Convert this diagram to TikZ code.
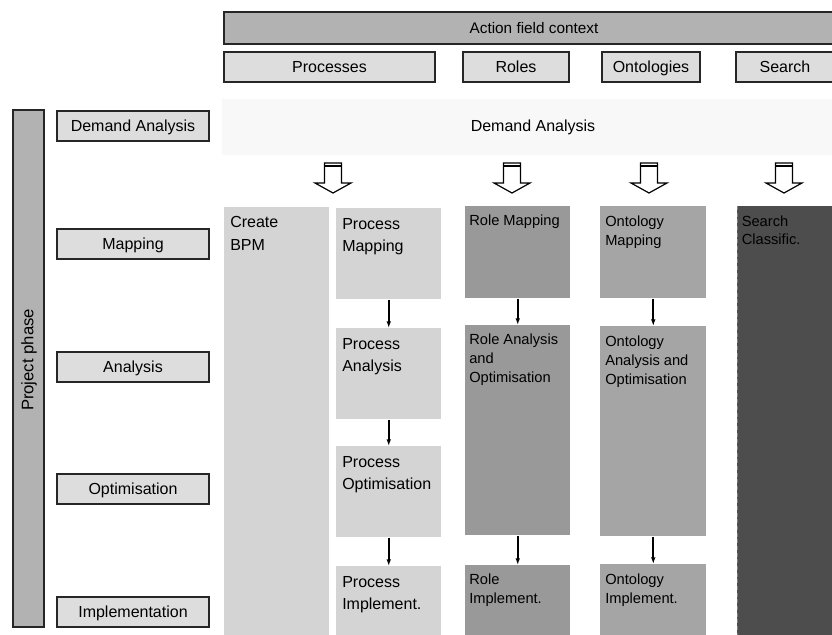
\documentclass[tikz,border=0pt]{standalone}
\usepackage{fontspec}
\setmainfont{Liberation Sans}
\usetikzlibrary{positioning,arrows.meta}

\definecolor{framegray}{HTML}{B2B2B2}
\definecolor{headgray}{HTML}{DDDDDD}
\definecolor{bandgray}{HTML}{F8F8F8}
\definecolor{procgray}{HTML}{D4D4D4}
\definecolor{rolegray}{HTML}{999999}
\definecolor{ontogray}{HTML}{A5A5A5}
\definecolor{searchgray}{HTML}{4D4D4D}

\begin{document}
\begin{tikzpicture}[x=0.75pt, y=-0.75pt,
    font=\fontsize{12}{14}\selectfont,
    headbox/.style={draw=black!85, line width=0.9pt, fill=headgray, inner sep=0pt,
        text height=8.6pt, text depth=0pt},
    framebox/.style={headbox, fill=framegray},
    colbox/.style={inner sep=0pt, anchor=north west, minimum width=105*0.75pt},
    biglabel/.style={inner sep=0pt, anchor=north west, align=left,
        font=\fontsize{12}{17}\selectfont},
    smalllabel/.style={inner sep=0pt, anchor=north west, align=left,
        font=\fontsize{11}{14}\selectfont},
    flow/.style={-{Latex[length=5pt,width=3.5pt]}, line width=1.4pt},
    hollow/.style={draw=black, line width=0.9pt, fill=white}]

    \useasboundingbox (0,0) rectangle (832,635);

    % context header
    \node[framebox, font=\fontsize{11.5}{13}\selectfont, minimum width=620*0.75pt, minimum height=32*0.75pt] (context) at (534,28) {Action field context};
    \node[headbox, minimum width=211*0.75pt, minimum height=30*0.75pt] (hproc) at (329.5,67) {Processes};
    \node[headbox, minimum width=106*0.75pt, minimum height=30*0.75pt] (hrole) at (516,67) {Roles};
    \node[headbox, minimum width=98*0.75pt, minimum height=30*0.75pt] (honto) at (651,67) {Ontologies};
    \node[headbox, minimum width=98*0.75pt, minimum height=30*0.75pt] (hsearch) at (785,67) {Search};

    % demand analysis band
    \node[fill=bandgray, inner sep=0pt, minimum width=622*0.75pt, minimum height=56*0.75pt] (band) at (533,127) {Demand Analysis};

    % project phases
    \node[framebox, minimum width=31*0.75pt, minimum height=517*0.75pt] (phase) at (28.5,368.5) {};
    \node[rotate=90, font=\fontsize{12.5}{14}\selectfont] at (29,360) {Project phase};
    \node[headbox, minimum width=152*0.75pt, minimum height=30*0.75pt] (pdemand) at (133,126) {Demand Analysis};
    \node[headbox, minimum width=152*0.75pt, minimum height=30*0.75pt] (pmapping) at (133,244) {Mapping};
    \node[headbox, minimum width=152*0.75pt, minimum height=30*0.75pt] (panalysis) at (133,367) {Analysis};
    \node[headbox, minimum width=152*0.75pt, minimum height=30*0.75pt] (poptim) at (133,489) {Optimisation};
    \node[headbox, minimum width=152*0.75pt, minimum height=30*0.75pt] (pimpl) at (133,612) {Implementation};

    % hollow arrows
    \foreach \cx in {333,512,649,784} {
        \draw[hollow] (\cx-8.5,163) -- (\cx+8.5,163) -- (\cx+8.5,183) -- (\cx+18,183)
            -- (\cx,193) -- (\cx-18,183) -- (\cx-8.5,183) -- cycle;
        \draw[line width=0.9pt] (\cx-8.5,166) -- (\cx+8.5,166);
    }

    % processes
    \node[colbox, fill=procgray, minimum height=440*0.75pt] (bpm) at (224,207) {};
    \node[biglabel] at ([xshift=4.5pt, yshift=-6.75pt]bpm.north west) {Create\\BPM};
    \node[colbox, fill=procgray, minimum height=91*0.75pt] (pmap) at (336,208) {};
    \node[biglabel] at ([xshift=4.5pt, yshift=-7.5pt]pmap.north west) {Process\\Mapping};
    \node[colbox, fill=procgray, minimum height=91*0.75pt] (pana) at (336,328) {};
    \node[biglabel] at ([xshift=4.5pt, yshift=-7.5pt]pana.north west) {Process\\Analysis};
    \node[colbox, fill=procgray, minimum height=91*0.75pt] (popt) at (336,446) {};
    \node[biglabel] at ([xshift=4.5pt, yshift=-7.5pt]popt.north west) {Process\\Optimisation};
    \node[colbox, fill=procgray, minimum height=80*0.75pt] (pimp) at (336,566) {};
    \node[biglabel] at ([xshift=4.5pt, yshift=-7.5pt]pimp.north west) {Process\\Implement.};

    % roles
    \node[colbox, fill=rolegray, minimum height=92*0.75pt] (rmap) at (465,206) {};
    \node[smalllabel] at ([xshift=3pt, yshift=-6.75pt]rmap.north west) {Role Mapping};
    \node[colbox, fill=rolegray, minimum height=210*0.75pt] (rana) at (465,325) {};
    \node[smalllabel] at ([xshift=3pt, yshift=-6.75pt]rana.north west) {Role Analysis\\and\\Optimisation};
    \node[colbox, fill=rolegray, minimum height=80*0.75pt] (rimp) at (465,565) {};
    \node[smalllabel] at ([xshift=3pt, yshift=-6.75pt]rimp.north west) {Role\\Implement.};

    % ontologies
    \node[colbox, fill=ontogray, minimum width=106*0.75pt, minimum height=92*0.75pt] (omap) at (600,206) {};
    \node[smalllabel] at ([xshift=3.75pt, yshift=-7.5pt]omap.north west) {Ontology\\Mapping};
    \node[colbox, fill=ontogray, minimum width=106*0.75pt, minimum height=210*0.75pt] (oana) at (600,326) {};
    \node[smalllabel] at ([xshift=3.75pt, yshift=-7.5pt]oana.north west) {Ontology\\Analysis and\\Optimisation};
    \node[colbox, fill=ontogray, minimum width=106*0.75pt, minimum height=80*0.75pt] (oimp) at (600,564) {};
    \node[smalllabel] at ([xshift=3.75pt, yshift=-7.5pt]oimp.north west) {Ontology\\Implement.};

    % search
    \node[colbox, fill=searchgray, minimum width=100*0.75pt, minimum height=440*0.75pt] (search) at (737,206) {};
    \draw[densely dashed, gray, line width=0.5pt] (search.north west) -- (search.south west);
    \node[smalllabel] at ([xshift=3.4pt, yshift=-7pt]search.north west) {Search\\Classific.};

    \draw[flow] (pmap) -- (pana);
    \draw[flow] (pana) -- (popt);
    \draw[flow] (popt) -- (pimp);
    \draw[flow] (rmap) -- (rana);
    \draw[flow] (rana) -- (rimp);
    \draw[flow] (omap) -- (oana);
    \draw[flow] (oana) -- (oimp);
\end{tikzpicture}
\end{document}
